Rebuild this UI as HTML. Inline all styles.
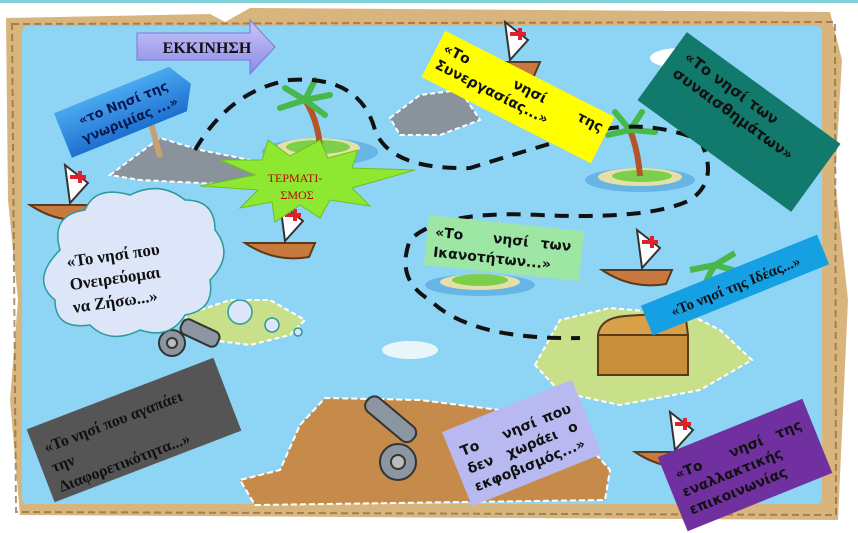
<!DOCTYPE html>
<html><head><meta charset="utf-8"><style>
html,body{margin:0;padding:0;background:#fff;}
svg{display:block;}
text{font-family:"DejaVu Sans","Liberation Sans",sans-serif;font-weight:bold;}
.s{font-family:"Liberation Serif",serif;font-weight:bold;}
</style></head><body>
<svg width="858" height="533" viewBox="0 0 858 533" xmlns="http://www.w3.org/2000/svg">
<defs>
<linearGradient id="bl" x1="0" y1="0" x2="0" y2="1"><stop offset="0" stop-color="#4aa8f0"/><stop offset="1" stop-color="#1e70d0"/></linearGradient>
<linearGradient id="ar" x1="0" y1="0" x2="0" y2="1"><stop offset="0" stop-color="#c8c6f8"/><stop offset="1" stop-color="#8e8ae8"/></linearGradient>
<g id="b"><path d="M0,0 L70,0 L64,14 Q30,20 0,0 Z" fill="#c87a3e" stroke="#5a3a1a" stroke-width="2"/><path d="M35,-40 L58,-22 L40,-2 Z" fill="#fff" stroke="#333" stroke-width="2"/><path d="M40,-30 h8 v-4 h4 v4 h4 v4 h-4 v4 h-4 v-4 h-8 Z" fill="#e0202a"/></g>
</defs>
<rect width="858" height="533" fill="#fff"/>
<rect x="0" y="0" width="858" height="3" fill="#7fd0d8"/>
<path d="M6,18 L210,14 L225,22 L250,8 L830,12 L842,60 L835,180 L848,300 L838,520 L20,515 L10,400 L18,300 L8,200 Z" fill="#d9b57e"/>
<path d="M12,24 L835,22 L836,515 L16,512 Z" fill="none" stroke="#8a6a40" stroke-width="2" stroke-dasharray="7,4" opacity="0.7"/>
<rect x="22" y="26" width="800" height="478" rx="6" fill="#8ed5f5"/>
<ellipse cx="680" cy="58" rx="30" ry="10" fill="#fff"/>
<ellipse cx="410" cy="350" rx="28" ry="9" fill="#e9f6fc"/>
<path d="M110,175 L160,138 L200,150 L250,160 L280,178 L240,185 L140,180 Z" fill="#8a929c" stroke="#fff" stroke-width="2" stroke-dasharray="5,3"/>
<path d="M390,118 L420,95 L460,90 L480,120 L440,135 L400,135 Z" fill="#8a929c" stroke="#fff" stroke-width="2" stroke-dasharray="5,3"/>
<rect x="152" y="118" width="6" height="40" fill="#c8a074" transform="rotate(-15 155 138)"/>
<ellipse cx="320" cy="152" rx="58" ry="14" fill="#66b5e5"/><ellipse cx="318" cy="148" rx="42" ry="10" fill="#e6e0a8"/><ellipse cx="318" cy="147" rx="32" ry="7" fill="#7ccf4c"/>
<ellipse cx="640" cy="180" rx="55" ry="12" fill="#66b5e5"/><ellipse cx="640" cy="177" rx="42" ry="9" fill="#e6e0a8"/><ellipse cx="642" cy="176" rx="30" ry="6" fill="#7ccf4c"/>
<ellipse cx="480" cy="285" rx="55" ry="11" fill="#66b5e5"/><ellipse cx="480" cy="282" rx="40" ry="8" fill="#e6e0a8"/><ellipse cx="480" cy="280" rx="28" ry="6" fill="#7ccf4c"/>
<path d="M185,315 L230,300 L270,300 L305,320 L290,335 L250,345 L195,338 Z" fill="#c9e08a" stroke="#fff" stroke-width="2" stroke-dasharray="5,3"/>
<path d="M535,365 L560,320 L610,308 L690,315 L720,330 L752,360 L700,390 L620,405 L560,392 Z" fill="#c9e08a" stroke="#fff" stroke-width="2" stroke-dasharray="5,3"/>
<path d="M320,148 Q318,120 305,100" stroke="#b5542a" stroke-width="6" fill="none"/>
<path d="M305,100 l-25,8 M305,100 l-20,-12 M305,100 l10,-20 M305,100 l25,-5 M305,100 l20,15" stroke="#49b84a" stroke-width="6" fill="none" stroke-linecap="round"/>
<path d="M640,176 Q638,150 630,130" stroke="#b5542a" stroke-width="6" fill="none"/>
<path d="M630,130 l-22,5 M630,130 l-15,-18 M630,130 l12,-18 M630,130 l25,2" stroke="#49b84a" stroke-width="6" fill="none" stroke-linecap="round"/>
<path d="M700,300 Q705,280 715,265 M715,265 l-25,5 M715,265 l20,-12 M715,265 l28,8" stroke="#49b84a" stroke-width="6" fill="none"/>
<path d="M300,425 L325,398 L420,400 L500,410 L565,420 L610,470 L605,500 L255,505 L240,480 L280,470 Z" fill="#c68a4a" stroke="#fff" stroke-width="2" stroke-dasharray="6,3"/>
<path d="M195,150 Q230,90 290,80 Q360,75 375,130 Q390,170 470,168 Q560,140 600,130 Q650,120 700,140 Q720,180 690,200 Q650,220 540,215 Q440,210 410,240 Q395,280 430,300 Q470,340 580,338" fill="none" stroke="#111" stroke-width="4" stroke-dasharray="14,10"/>
<rect x="598" y="335" width="90" height="40" fill="#c98e3a" stroke="#5a3a1a" stroke-width="2"/>
<path d="M598,335 Q600,318 625,316 L685,312 L688,335 Z" fill="#d9a04a" stroke="#5a3a1a" stroke-width="2"/>
<g fill="#8c96a0" stroke="#333" stroke-width="2">
<rect x="360" y="410" width="60" height="18" rx="8" transform="rotate(40 390 420)"/>
<circle cx="398" cy="462" r="18"/><circle cx="398" cy="462" r="7" fill="#bbb"/>
<rect x="180" y="325" width="40" height="16" rx="6" transform="rotate(25 200 333)"/>
<circle cx="172" cy="343" r="13"/><circle cx="172" cy="343" r="5" fill="#bbb"/>
</g>
<use href="#b" x="30" y="205"/>
<use href="#b" x="245" y="243"/>
<use href="#b" x="470" y="62"/>
<use href="#b" x="602" y="270"/>
<use href="#b" x="635" y="452"/>
<path d="M137,33 L250,33 L250,20 L275,47 L250,74 L250,60 L137,60 Z" fill="url(#ar)" stroke="#7a78d8" stroke-width="1"/>
<text x="207" y="53" class="s" font-size="16" text-anchor="middle" fill="#111">ΕΚΚΙΝΗΣΗ</text>
<g transform="translate(126,110) rotate(-22)">
<path d="M-68,-24 L56,-24 L70,0 L56,24 L-68,24 Z" fill="url(#bl)"/>
<text x="0" y="-3" font-size="13" text-anchor="middle" fill="#0a1850">«το Νησί της</text>
<text x="0" y="15" font-size="13" text-anchor="middle" fill="#0a1850">γνωριμίας ...»</text>
</g>
<g transform="translate(518,97) rotate(27)">
<rect x="-95" y="-26" width="190" height="52" fill="#ffff00"/>
<text x="-88" y="-6" font-size="14" fill="#111">«Το<tspan x="-10">νησί</tspan><tspan x="62">της</tspan></text>
<text x="-88" y="12" font-size="14" fill="#111">Συνεργασίας...»</text>
</g>
<g transform="translate(739,122) rotate(36)">
<rect x="-95" y="-42" width="190" height="84" fill="#127a6c"/>
<text x="-82" y="-18" font-size="15" fill="#111">«Το νησί των</text>
<text x="-82" y="2" font-size="15" fill="#111">συναισθημάτων»</text>
</g>
<path d="M220,160 L262,160 L268,140 L290,156 L320,140 L328,158 L358,150 L352,168 L415,170 L352,188 L370,206 L330,200 L320,218 L300,205 L275,222 L272,202 L240,208 L258,190 L200,186 L255,175 Z" fill="#8ee832" stroke="#6cc020" stroke-width="1"/>
<text x="295" y="182" class="s" font-size="12" text-anchor="middle" fill="#c00000" style="font-weight:normal">ΤΕΡΜΑΤΙ-</text>
<text x="297" y="199" class="s" font-size="12" text-anchor="middle" fill="#c00000" style="font-weight:normal">ΣΜΟΣ</text>
<g transform="translate(504,248) rotate(6)">
<rect x="-78" y="-25" width="156" height="50" fill="#9ee6a4"/>
<text x="-70" y="-4" font-size="14" fill="#111">«Το<tspan x="-12">νησί</tspan><tspan x="36">των</tspan></text>
<text x="-70" y="16" font-size="14" fill="#111">Ικανοτήτων...»</text>
</g>
<g fill="#dde6f8" stroke="#2a9a9a" stroke-width="1.5">
<path d="M60,250 Q50,215 85,210 Q95,185 130,195 Q160,180 185,200 Q215,200 215,230 Q235,255 210,280 Q215,310 185,315 Q170,340 140,330 Q110,345 90,325 Q55,330 55,300 Q30,280 60,250 Z"/>
<circle cx="240" cy="312" r="12"/><circle cx="272" cy="325" r="7"/><circle cx="298" cy="332" r="4"/>
</g>
<g transform="translate(120,268) rotate(-8)">
<text x="-52" y="-8" class="s" font-size="17" fill="#111">«Το νησί που</text>
<text x="-52" y="15" class="s" font-size="17" fill="#111">Ονειρεύομαι</text>
<text x="-52" y="38" class="s" font-size="17" fill="#111">να Ζήσω...»</text>
</g>
<g transform="translate(735,285) rotate(-22)">
<rect x="-95" y="-16" width="190" height="32" fill="#14a0e2"/>
<text x="0" y="6" class="s" font-size="15" text-anchor="middle" fill="#111">«Το νησί της Ιδέας...»</text>
</g>
<g transform="translate(134,430) rotate(-21)">
<rect x="-100" y="-39" width="200" height="78" fill="#555"/>
<text x="-90" y="-10" class="s" font-size="16" fill="#111">«Το νησί που αγαπάει</text>
<text x="-90" y="11" class="s" font-size="16" fill="#111">την</text>
<text x="-90" y="32" class="s" font-size="16" fill="#111">Διαφορετικότητα...»</text>
</g>
<g transform="translate(522,443) rotate(-22)">
<rect x="-70" y="-40" width="140" height="80" fill="#b9b9f2"/>
<text x="-60" y="-10" font-size="14" fill="#111">Το<tspan x="-15">νησί</tspan><tspan x="28">που</tspan></text>
<text x="-60" y="9" font-size="14" fill="#111">δεν<tspan x="-18">χωράει</tspan><tspan x="48">ο</tspan></text>
<text x="-60" y="28" font-size="14" fill="#111">εκφοβισμός...»</text>
</g>
<g transform="translate(745,465) rotate(-22)">
<rect x="-78" y="-40" width="156" height="80" fill="#7030a0"/>
<text x="-68" y="-12" font-size="14" fill="#111">«Το<tspan x="-10">νησί</tspan><tspan x="40">της</tspan></text>
<text x="-68" y="7" font-size="14" fill="#111">εναλλακτικής</text>
<text x="-68" y="26" font-size="14" fill="#111">επικοινωνίας</text>
</g>
</svg>
</body></html>
